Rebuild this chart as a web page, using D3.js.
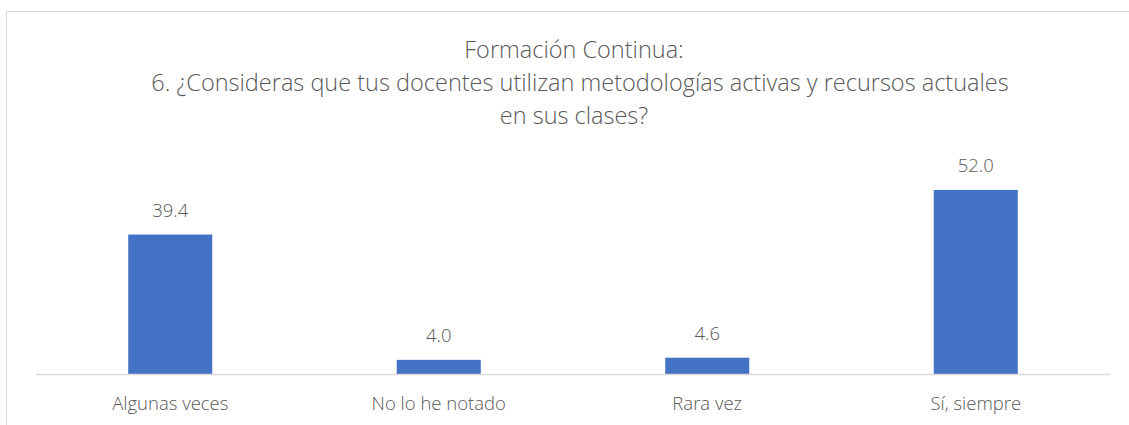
<!DOCTYPE html>
<html><head><meta charset="utf-8">
<script src="https://cdn.jsdelivr.net/npm/d3@7"></script>
<style>body{margin:0;background:#fff;} svg{display:block;}</style>
</head><body>
<svg id="c" width="1129" height="425"></svg>
<script>
const categories = ["Algunas veces", "No lo he notado", "Rara vez", "Sí, siempre"];
const values = [39.4, 4.0, 4.6, 52.0];
const titleLines = ["Formación Continua:", "6. ¿Consideras que tus docentes utilizan metodologías activas y recursos actuales", "en sus clases?"];

const svg = d3.select("#c");
svg.append("rect").attr("x", 6.5).attr("y", 11.5).attr("width", 1140).attr("height", 430)
  .attr("fill", "#fff").attr("stroke", "#d9d9d9").attr("stroke-width", 1);

const x = d3.scaleBand().domain(categories).range([36, 1110]).paddingInner(0.687).paddingOuter(0.3435);
const y = d3.scaleLinear().domain([0, 60]).range([374, 161.6]);

svg.selectAll("rect.bar").data(values).enter().append("rect").attr("class", "bar")
  .attr("x", (d, i) => x(categories[i])).attr("width", x.bandwidth())
  .attr("y", d => y(d)).attr("height", d => y(0) - y(d)).attr("fill", "#4472C4");

const xAxis = svg.append("g").attr("transform", "translate(0,374)").call(d3.axisBottom(x).tickSize(0).tickPadding(0));
xAxis.select(".domain").attr("stroke", "#d9d9d9").attr("stroke-width", 1.3).attr("d", "M36,0.5H1110");
xAxis.selectAll("text").attr("dy", null).attr("y", 36).attr("fill", "#595959")
  .style("font-family", "'Open Sans', sans-serif").style("font-weight", 300).style("font-size", "18.5px");

svg.selectAll("text.lbl").data(values).enter().append("text").attr("class", "lbl")
  .attr("x", (d, i) => x(categories[i]) + x.bandwidth() / 2).attr("y", d => y(d) - 18)
  .attr("text-anchor", "middle").attr("fill", "#595959")
  .style("font-family", "'Open Sans', sans-serif").style("font-weight", 300).style("font-size", "18.5px")
  .text(d => d.toFixed(1));

svg.selectAll("text.title").data(titleLines).enter().append("text").attr("class", "title")
  .attr("x", (d, i) => i === 1 ? 580 : 574).attr("y", (d, i) => 58 + i * 33).attr("text-anchor", "middle")
  .attr("fill", "#595959").style("font-family", "'Open Sans', sans-serif").style("font-weight", 300)
  .style("font-size", "23.5px").text(d => d);
</script>
</body></html>
